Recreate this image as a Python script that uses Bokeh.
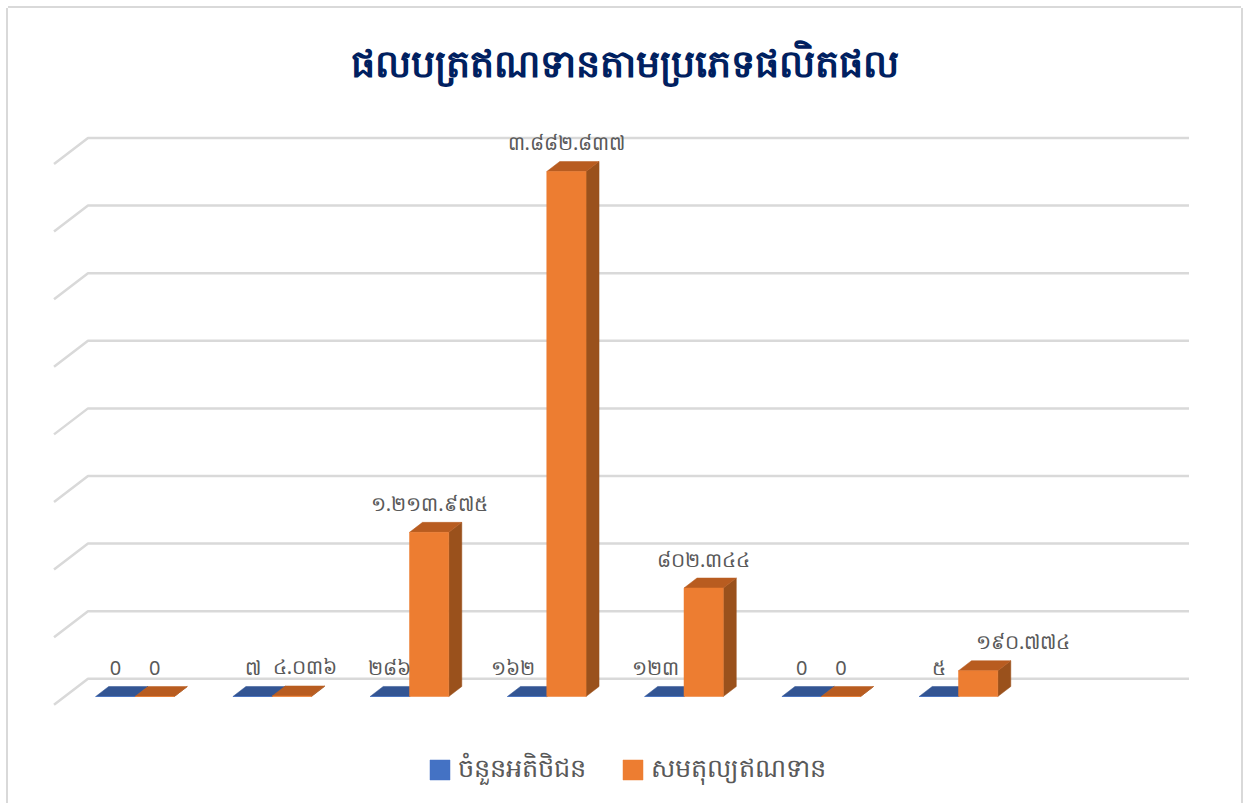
from bokeh.plotting import figure
from bokeh.embed import file_html
from bokeh.resources import INLINE
from bokeh.models import Range1d, Legend, LegendItem
from bokeh.core.properties import value

title_text = "ផលបត្រឥណទានតាមប្រភេទផលិតផល"
series_names = ["ចំនួនអតិថិជន", "សមតុល្យឥណទាន"]
customers = [0, 7, 286, 162, 123, 0, 5]
balance = [0, 4036, 1213975, 3882837, 802344, 0, 190774]
customer_labels = ["0", "៧", "២៨៦", "១៦២", "១២៣", "0", "៥"]
balance_labels = ["0", "៤.០៣៦", "១.២១៣.៩៧៥", "៣.៨៨២.៨៣៧", "៨០២.៣៤៤", "0", "១៩០.៧៧៤"]
grid_values = [0, 500000, 1000000, 1500000, 2000000, 2500000, 3000000, 3500000, 4000000]

# geometry (screen pixels)
FONT = "Noto Sans"
W, H = 1233, 795
TITLE_H = 84
FRAME_H = H - TITLE_H
FRAME_TOP = 8 + TITLE_H
FRAME_LEFT = 8
PX_PER_CAT = 137.25
PX_PER_UNIT = 525 / 3882837
ORIGIN_X, ORIGIN_Y = 134.5, 696.0
BAR_PX, DX, DY = 39.3, 13.0, 10.0


def X(px):
    return (px - ORIGIN_X) / PX_PER_CAT


def Y(px):
    return (ORIGIN_Y - px) / PX_PER_UNIT


dx, dy = DX / PX_PER_CAT, DY / PX_PER_UNIT
bar = BAR_PX / PX_PER_CAT

p = figure(
    frame_width=W, frame_height=FRAME_H, output_backend="svg", toolbar_location=None,
    x_range=Range1d(X(FRAME_LEFT), X(FRAME_LEFT + W)),
    y_range=Range1d(Y(FRAME_TOP + FRAME_H), Y(FRAME_TOP)),
    min_border=0, min_border_top=TITLE_H, x_axis_location=None, y_axis_location=None,
    outline_line_color=None, margin=(8, 0, 0, 8),
)
p.grid.visible = False
p.styles = {"box-shadow": "-2px 0 0 #d9d9d9, 2px 0 0 #d9d9d9, 0 -2px 0 #d9d9d9"}
p.title.text = title_text
p.title.align = "center"
p.title.text_font = FONT
p.title.text_font_style = "bold"
p.title.text_font_size = "38px"
p.title.text_color = "#002060"
p.title.standoff = 10

# back-wall grid with the receding floor edge
GRID_LEFT, GRID_RIGHT = 87.5, 1188.5
WALL_DX, WALL_DY = 34.0, 26.0
BACK = 17.7 / PX_PER_UNIT
xs, ys = [], []
for g in grid_values:
    xs.append([X(GRID_LEFT - WALL_DX), X(GRID_LEFT), X(GRID_RIGHT)])
    ys.append([g + BACK - WALL_DY / PX_PER_UNIT, g + BACK, g + BACK])
p.multi_line(xs, ys, line_color="#d9d9d9", line_width=2.5)


def bars(vals, offset, front, top, side):
    lefts = [i + offset for i in range(len(vals))]
    rights = [l + bar for l in lefts]
    p.patches(
        [[r, r + dx, r + dx, r] for r in rights],
        [[0, dy, v + dy, v] for v in vals],
        fill_color=side, line_color=side, line_width=0.5)
    p.patches(
        [[l, l + dx, r + dx, r] for l, r in zip(lefts, rights)],
        [[v, v + dy, v + dy, v] for v in vals],
        fill_color=top, line_color=top, line_width=0.5)
    return p.quad(left=lefts, right=rights, bottom=[0] * len(vals), top=vals,
                  fill_color=front, line_color=front, line_width=0.5)


r_customers = bars(customers, -bar, "#4472C4", "#335593", "#2F5597")
r_balance = bars(balance, 0.0, "#ED7D31", "#B85C20", "#9A511C")

# data labels
LABEL_STYLE = dict(text_font=value(FONT), text_font_size="20px", text_color="#595959",
                   text_align="center", text_baseline="middle")
cust_nudge = [0, 0, 0, -14, -9, 0, 0]
bal_nudge = [0, 13, 0, 0, 0, 0, 45]
for vals, labels, nudge, offset in [(customers, customer_labels, cust_nudge, -bar / 2),
                                    (balance, balance_labels, bal_nudge, bar / 2)]:
    p.text(
        x=[i + offset + n / PX_PER_CAT for i, n in enumerate(nudge)],
        y=[v + 29 / PX_PER_UNIT for v in vals],
        text=labels, **LABEL_STYLE)

legend = Legend(
    items=[LegendItem(label=value(series_names[0]), renderers=[r_customers]),
           LegendItem(label=value(series_names[1]), renderers=[r_balance])],
    orientation="horizontal", location=(419, 14),
    glyph_width=25, glyph_height=25, spacing=34, label_standoff=6,
    label_text_font=FONT, label_text_font_size="25.5px", label_text_color="#595959",
    background_fill_alpha=0, border_line_color=None, margin=0, padding=0,
)
p.add_layout(legend, "center")

open("out.html", "w").write(file_html(p, INLINE))
